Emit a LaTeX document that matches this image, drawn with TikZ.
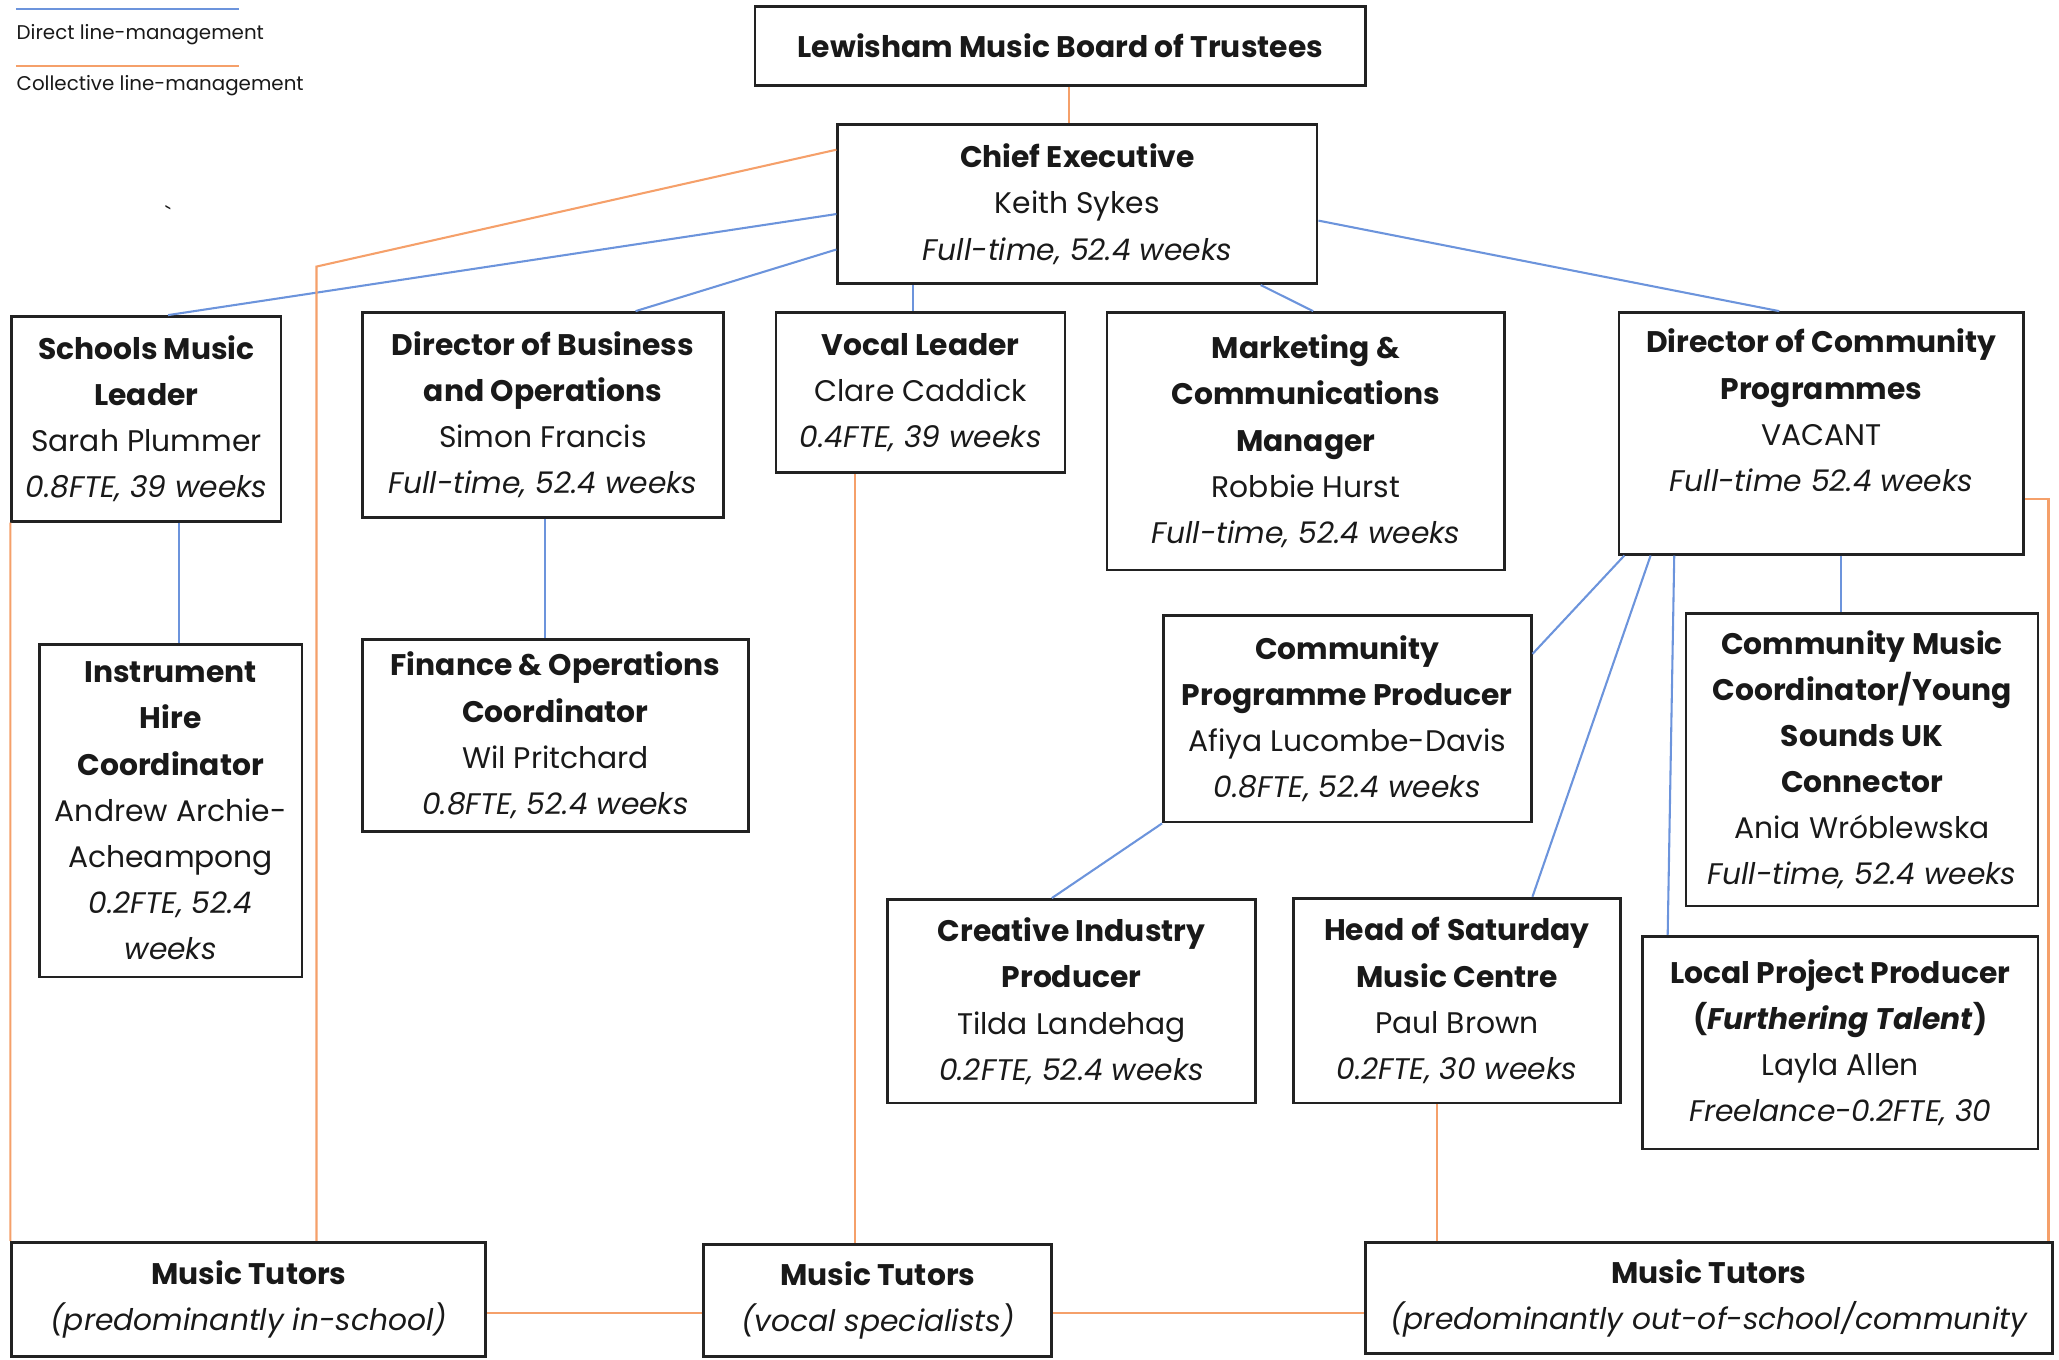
\documentclass[tikz,border=0pt]{standalone}
\usepackage{fontspec}
\setmainfont{Poppins}
\usepackage{tikz}
\usetikzlibrary{calc}
\definecolor{directblue}{HTML}{6C94DC}
\definecolor{collorange}{HTML}{F5A06A}
\definecolor{boxline}{HTML}{222222}
\tikzstyle{every node}=[font=\fontsize{6.45}{10}\selectfont, text=black!90]
\tikzstyle{post}=[draw=boxline, line width=0.6pt, rectangle, align=center, inner sep=0pt]
\tikzstyle{key}=[anchor=west, inner sep=0pt, font=\fontsize{4.3}{5}\selectfont]
\tikzstyle{direct}=[draw=directblue, line width=0.45pt]
\tikzstyle{collective}=[draw=collorange, line width=0.45pt]

\begin{document}
\begin{tikzpicture}[x=0.1mm, y=-0.1mm]
            \useasboundingbox (0,0) rectangle (1568,1035);

            % legend
            \draw [direct] (12,7) -- (182,7);
            \node [key] (keydirect) at (12,26) {Direct line-management};
            \draw [collective] (12,50) -- (182,50);
            \node [key] (keycollective) at (12,65) {Collective line-management};
            \node [font=\fontsize{5}{6}\selectfont] (tick) at (128,163) {\textasciigrave};

            % posts
            \node [post, minimum width=46.5mm, minimum height=6mm] (board) at (807.5,35)
                {\textbf{Lewisham Music Board of Trustees}};
            \node [post, minimum width=36.5mm, minimum height=12.1mm] (chief) at (820.5,155.5)
                {\textbf{Chief Executive}\\Keith Sykes\\\textit{Full-time, 52.4 weeks}};

            \node [post, minimum width=20.5mm, minimum height=15.6mm] (schools) at (111.5,319)
                {\textbf{Schools Music}\\\textbf{Leader}\\Sarah Plummer\\\textit{0.8FTE, 39 weeks}};
            \node [post, minimum width=27.5mm, minimum height=15.6mm] (dirbus) at (413.5,316)
                {\textbf{Director of Business}\\\textbf{and Operations}\\Simon Francis\\\textit{Full-time, 52.4 weeks}};
            \node [post, minimum width=22mm, minimum height=12.2mm] (vocal) at (701,299)
                {\textbf{Vocal Leader}\\Clare Caddick\\\textit{0.4FTE, 39 weeks}};
            \node [post, minimum width=30.3mm, minimum height=19.6mm] (marketing) at (994.5,336)
                {\textbf{Marketing \&}\\\textbf{Communications}\\\textbf{Manager}\\Robbie Hurst\\\textit{Full-time, 52.4 weeks}};
            \node [post, minimum width=30.8mm, minimum height=18.4mm] (dircom) at (1387,330)
                {\textbf{Director of Community}\\\textbf{Programmes}\\VACANT\\\textit{Full-time 52.4 weeks}\\\mbox{}};

            \node [post, minimum width=20mm, minimum height=25.3mm] (instr) at (130,617.5)
                {\textbf{Instrument}\\\textbf{Hire}\\\textbf{Coordinator}\\Andrew Archie-\\Acheampong\\\textit{0.2FTE, 52.4}\\\textit{weeks}};
            \node [post, minimum width=29.4mm, minimum height=14.6mm] (finance) at (423,560)
                {\textbf{Finance \& Operations}\\\textbf{Coordinator}\\Wil Pritchard\\\textit{0.8FTE, 52.4 weeks}};
            \node [post, minimum width=28mm, minimum height=15.7mm] (cpp) at (1026,547.5)
                {\textbf{Community}\\\textbf{Programme Producer}\\Afiya Lucombe-Davis\\\textit{0.8FTE, 52.4 weeks}};
            \node [post, minimum width=26.8mm, minimum height=22.3mm] (cmc) at (1418,578.5)
                {\textbf{Community Music}\\\textbf{Coordinator/Young}\\\textbf{Sounds UK}\\\textbf{Connector}\\Ania Wróblewska\\\textit{Full-time, 52.4 weeks}};

            \node [post, minimum width=28mm, minimum height=15.5mm] (creative) at (816,762.5)
                {\textbf{Creative Industry}\\\textbf{Producer}\\Tilda Landehag\\\textit{0.2FTE, 52.4 weeks}};
            \node [post, minimum width=24.9mm, minimum height=15.6mm] (saturday) at (1109.5,762)
                {\textbf{Head of Saturday}\\\textbf{Music Centre}\\Paul Brown\\\textit{0.2FTE, 30 weeks}};
            \node [post, minimum width=30.1mm, minimum height=16.2mm] (local) at (1401.5,794)
                {\textbf{Local Project Producer}\\\textbf{(\textit{Furthering Talent})}\\Layla Allen\\\textit{Freelance-0.2FTE, 30}};

            \node [post, minimum width=36.1mm, minimum height=8.7mm] (tutschool) at (189.5,989.5)
                {\textbf{Music Tutors}\\\textit{(predominantly in-school)}};
            \node [post, minimum width=26.5mm, minimum height=8.5mm] (tutvocal) at (668.5,990.5)
                {\textbf{Music Tutors}\\\textit{(vocal specialists)}};
            \node [post, minimum width=52.3mm, minimum height=8.5mm] (tutcomm) at (1301.5,988.5)
                {\textbf{Music Tutors}\\\textit{(predominantly out-of-school/community}};

            % direct line-management
            \draw [direct] (chief.west |- 0,163) -- (schools.north -| 128,0);
            \draw [direct] (chief.west |- 0,190) -- (dirbus.north -| 484,0);
            \draw [direct] (chief.south -| 695,0) -- (vocal.north -| 695,0);
            \draw [direct] (chief.south -| 960,0) -- (marketing.north -| 1000,0);
            \draw [direct] (chief.east |- 0,168) -- (dircom.north -| 1355,0);
            \draw [direct] (schools.south -| 136,0) -- (instr.north -| 136,0);
            \draw [direct] (dirbus.south -| 415,0) -- (finance.north -| 415,0);
            \draw [direct] (dircom.south -| 1402,0) -- (cmc.north -| 1402,0);
            \draw [direct] (dircom.south -| 1237,0) -- (cpp.east |- 0,498);
            \draw [direct] (dircom.south -| 1257,0) -- (saturday.north -| 1167,0);
            \draw [direct] (dircom.south -| 1275,0) -- (local.north -| 1270,0);
            \draw [direct] (cpp.south west) -- (creative.north -| 801,0);

            % collective line-management
            \coordinate (schoolbend) at (241,203);
            \coordinate (combend) at (1560,380);
            \draw [collective] (board.south -| 814,0) -- (chief.north -| 814,0);
            \draw [collective] (chief.west |- 0,114) -- (schoolbend) -- (tutschool.north -| schoolbend);
            \draw [collective] (schools.south west) -- (tutschool.north west);
            \draw [collective] (vocal.south -| 651,0) -- (tutvocal.north -| 651,0);
            \draw [collective] (saturday.south -| 1094,0) -- (tutcomm.north -| 1094,0);
            \draw [collective] (dircom.east |- combend) -- (combend) -- (tutcomm.north -| combend);
            \draw [collective] (tutschool.east |- 0,1000) -- (tutvocal.west |- 0,1000);
            \draw [collective] (tutvocal.east |- 0,1000) -- (tutcomm.west |- 0,1000);
\end{tikzpicture}
\end{document}
